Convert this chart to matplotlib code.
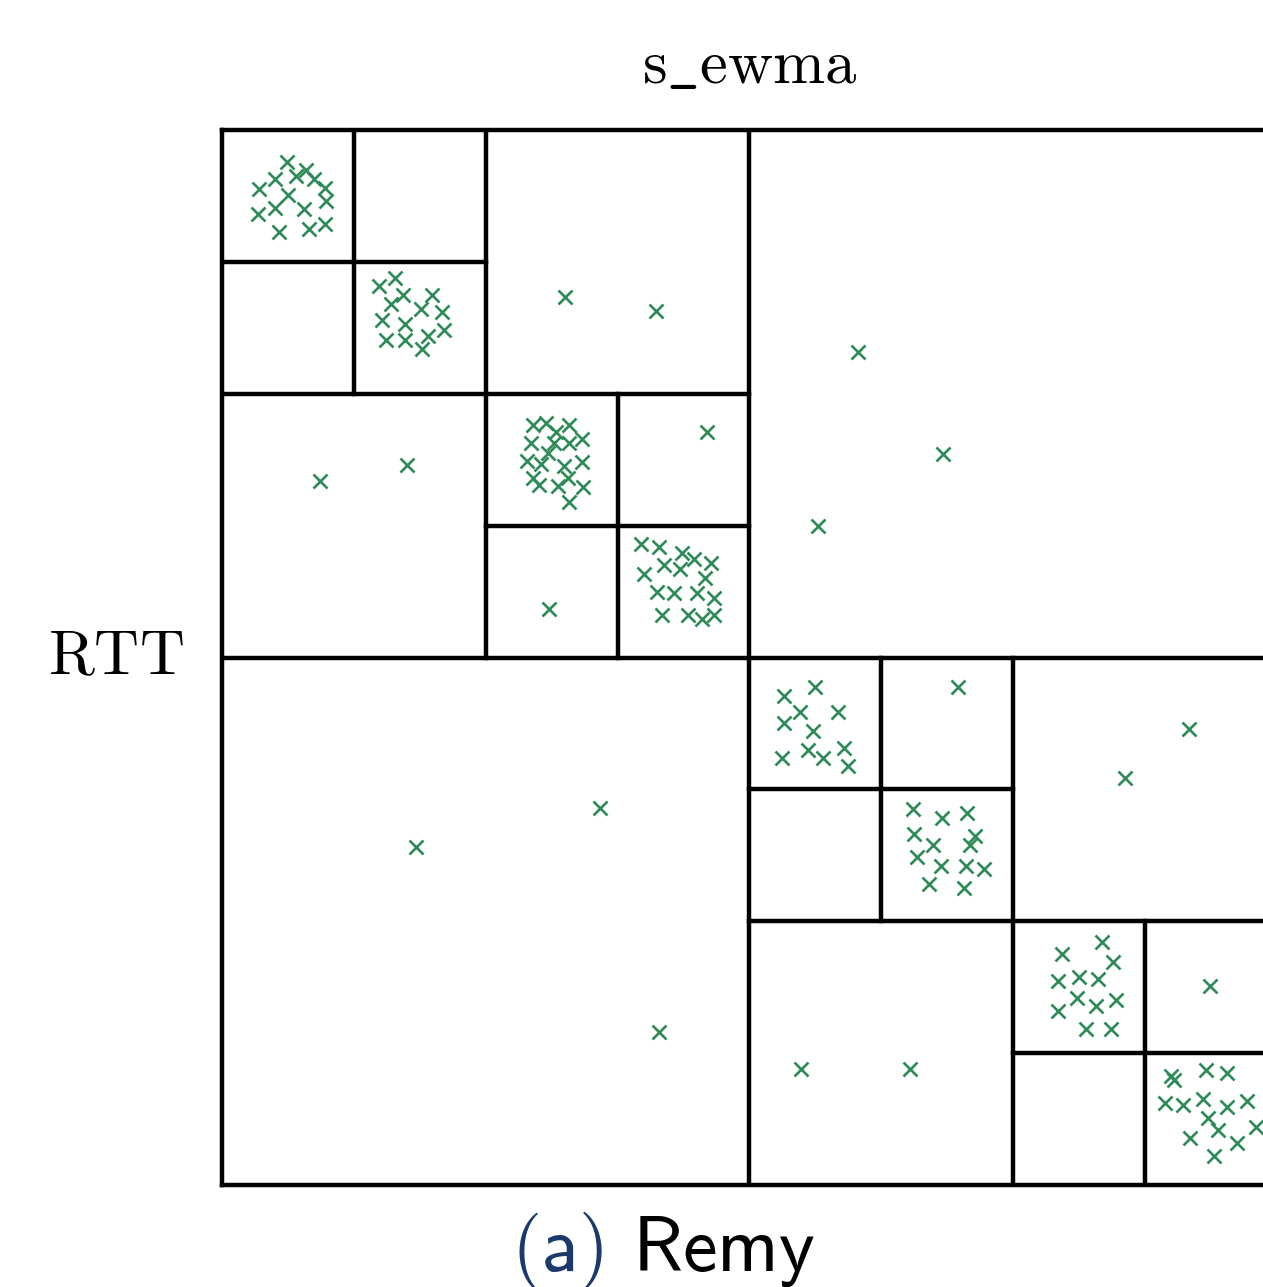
"""
Remy rule tree: RTT vs s_ewma partition with sampled points.
"""

import matplotlib
matplotlib.use('Agg')
import matplotlib.pyplot as plt

plt.rcParams['mathtext.fontset'] = 'cm'

# squares that are split into four (x0, y0, size), axis units 0..8
splits = [(0, 0, 8), (0, 4, 4), (0, 6, 2), (2, 4, 2), (4, 0, 4), (4, 2, 2), (6, 0, 2)]

# sampled points, s_ewma (x) and RTT (y)
x_pts = [
    # cell 0-1 / 7-8
    0.49, 0.40, 0.56, 0.64, 0.70, 0.78, 0.28, 0.50, 0.79, 0.40, 0.62, 0.27, 0.43, 0.66, 0.78,
    # cell 1-2 / 6-7
    1.19, 1.31, 1.37, 1.28, 1.59, 1.51, 1.67, 1.21, 1.39, 1.24, 1.39, 1.56, 1.68, 1.52,
    # 2-4 / 6-8 and 0-2 / 4-6
    2.60, 3.29, 0.74, 1.40,
    # cell 2-3 / 5-6
    2.36, 2.46, 2.63, 2.53, 2.34, 2.52, 2.63, 2.73, 2.47, 2.31, 2.42, 2.59, 2.73, 2.36,
    2.40, 2.55, 2.62, 2.74, 2.63,
    3.68, 2.48,
    # cell 3-4 / 4-5
    3.18, 3.31, 3.49, 3.58, 3.71, 3.35, 3.47, 3.20, 3.66, 3.30, 3.43, 3.60, 3.73, 3.34,
    3.53, 3.64, 3.73,
    # big quadrants
    4.82, 5.47, 4.52, 2.87, 1.47, 3.31,
    # cell 4-5 / 3-4
    4.26, 4.50, 4.38, 4.67, 4.26, 4.48, 4.25, 4.44, 4.56, 4.72, 4.75,
    5.58,
    # cell 5-6 / 2-3
    5.24, 5.46, 5.65, 5.25, 5.71, 5.39, 5.67, 5.27, 5.45, 5.64, 5.78, 5.36, 5.63,
    7.33, 6.85, 4.39, 5.22,
    # cell 6-7 / 1-2
    6.37, 6.67, 6.76, 6.34, 6.50, 6.64, 6.48, 6.63, 6.78, 6.34, 6.55, 6.74,
    7.49,
    # cell 7-8 / 0-1
    7.20, 7.22, 7.46, 7.62, 7.15, 7.29, 7.44, 7.62, 7.77, 7.48, 7.55, 7.84, 7.34, 7.70, 7.52,
]
y_pts = [
    7.76, 7.63, 7.65, 7.70, 7.63, 7.56, 7.55, 7.51, 7.46, 7.41, 7.40, 7.36, 7.23, 7.25, 7.29,
    6.82, 6.88, 6.75, 6.68, 6.75, 6.64, 6.62, 6.56, 6.53, 6.41, 6.41, 6.44, 6.48, 6.34,
    6.73, 6.63, 5.34, 5.46,
    5.76, 5.78, 5.76, 5.71, 5.63, 5.63, 5.63, 5.66, 5.55, 5.49, 5.47, 5.45, 5.48, 5.36,
    5.31, 5.30, 5.36, 5.29, 5.18,
    5.71, 4.37,
    4.86, 4.84, 4.79, 4.75, 4.72, 4.70, 4.67, 4.63, 4.60, 4.50, 4.49, 4.49, 4.45, 4.32,
    4.32, 4.29, 4.32,
    6.32, 5.54, 5.00, 2.86, 2.56, 1.16,
    3.71, 3.78, 3.59, 3.59, 3.50, 3.44, 3.24, 3.30, 3.24, 3.31, 3.18,
    3.78,
    2.85, 2.78, 2.82, 2.66, 2.65, 2.58, 2.58, 2.49, 2.42, 2.42, 2.40, 2.28, 2.25,
    3.46, 3.09, 0.88, 0.88,
    1.75, 1.84, 1.69, 1.55, 1.58, 1.56, 1.42, 1.36, 1.40, 1.32, 1.18, 1.18,
    1.51,
    0.83, 0.80, 0.87, 0.85, 0.62, 0.61, 0.65, 0.59, 0.64, 0.51, 0.42, 0.44, 0.36, 0.32, 0.22,
]

W, H = 1263, 1287
fig = plt.figure(figsize=(W / 100, H / 100), dpi=100)
ax = fig.add_axes([222 / W, 102 / H, 1055 / W, 1055 / H])

for x0, y0, s in splits:
    h = s / 2
    ax.plot([x0 + h, x0 + h], [y0, y0 + s], color='black', lw=3.2, solid_capstyle='projecting')
    ax.plot([x0, x0 + s], [y0 + h, y0 + h], color='black', lw=3.2, solid_capstyle='projecting')

ax.plot(x_pts, y_pts, 'x', color='#2e8b57', markersize=9.5, markeredgewidth=1.9)

ax.set_xlim(0, 8)
ax.set_ylim(0, 8)
ax.set_xticks([])
ax.set_yticks([])
for sp in ax.spines.values():
    sp.set_linewidth(3.2)

ax.set_title(r'$\mathrm{s\_ewma}$', fontsize=45, pad=34)
ax.text(-0.036, 0.5, r'$\mathrm{RTT}$', transform=ax.transAxes,
        ha='right', va='center', fontsize=45)

fig.text(511 / W, 16 / H, r'$\mathsf{(a)}$', color='#1b3a6b', fontsize=56,
         ha='left', va='baseline')
fig.text(632 / W, 16 / H, r'$\mathsf{Remy}$', color='black', fontsize=56,
         ha='left', va='baseline')

fig.savefig('out.png', dpi=100)
